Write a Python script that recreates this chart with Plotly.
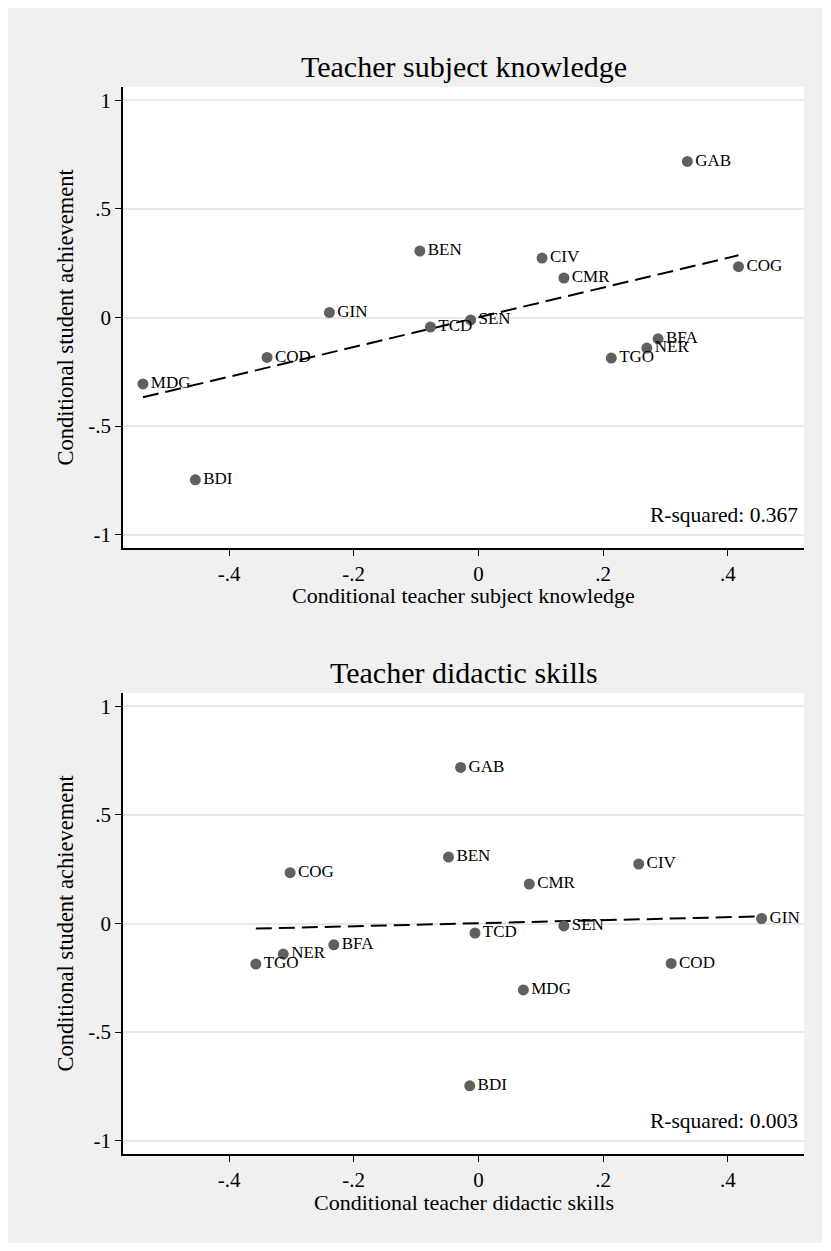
import numpy as np
import plotly.graph_objects as go
from plotly.subplots import make_subplots

countries = ["GAB", "BEN", "CIV", "CMR", "COG", "GIN", "SEN", "TCD",
             "COD", "MDG", "BFA", "NER", "TGO", "BDI"]
achievement = [0.719, 0.306, 0.274, 0.182, 0.234, 0.023, -0.011, -0.044,
               -0.184, -0.306, -0.098, -0.141, -0.187, -0.748]
subject_knowledge = [0.335, -0.094, 0.102, 0.137, 0.417, -0.239, -0.0125, -0.077,
                     -0.339, -0.538, 0.288, 0.270, 0.213, -0.454]
didactic_skills = [-0.0286, -0.048, 0.257, 0.0815, -0.302, 0.454, 0.137, -0.0056,
                   0.309, 0.072, -0.232, -0.313, -0.357, -0.014]
r2_labels = ["R-squared: 0.367", "R-squared: 0.003"]
titles = ["Teacher subject knowledge", "Teacher didactic skills"]
x_titles = ["Conditional teacher subject knowledge", "Conditional teacher didactic skills"]
y_title = "Conditional student achievement"
x_tickvals = [-0.4, -0.2, 0, 0.2, 0.4]
x_ticktext = ["-.4", "-.2", "0", ".2", ".4"]
y_tickvals = [-1, -0.5, 0, 0.5, 1]
y_ticktext = ["-1", "-.5", "0", ".5", "1"]

FONT = "Liberation Serif, Times New Roman, serif"
W, H = 814, 1235
ML, MR, MT, MB = 115, 18, 79, 89
plot_h = H - MT - MB
gap = 145

fig = make_subplots(rows=2, cols=1, vertical_spacing=gap / plot_h)

for i, xs in enumerate([subject_knowledge, didactic_skills]):
    row = i + 1
    xa = np.array(xs)
    ya = np.array(achievement)
    b, a = np.polyfit(xa, ya, 1)
    xl = np.array([xa.min(), xa.max()])
    fig.add_trace(go.Scatter(x=xl, y=a + b * xl, mode="lines",
                             line=dict(color="black", width=2, dash="16px,7px"),
                             hoverinfo="skip", showlegend=False), row=row, col=1)
    fig.add_trace(go.Scatter(x=xs, y=achievement, mode="markers+text", text=countries,
                             textposition="middle right",
                             textfont=dict(family=FONT, size=17, color="black"),
                             marker=dict(color="#606060", size=11),
                             showlegend=False), row=row, col=1)
    fig.update_xaxes(range=[-0.57, 0.522], tickvals=x_tickvals, ticktext=x_ticktext,
                     showgrid=False, zeroline=False, showline=True, linecolor="black",
                     linewidth=1.5, ticks="outside", ticklen=6, tickcolor="black",
                     tickfont=dict(family=FONT, size=21, color="black"),
                     row=row, col=1)
    fig.update_yaxes(range=[-1.062, 1.062], tickvals=y_tickvals, ticktext=y_ticktext,
                     showgrid=True, gridcolor="#e8e8e8", gridwidth=1.5, zeroline=False,
                     showline=True, linecolor="black", linewidth=1.5, ticks="outside",
                     ticklen=6, tickcolor="black",
                     tickfont=dict(family=FONT, size=21, color="black"),
                     row=row, col=1)

yref = ["y domain", "y2 domain"]
xref = ["x domain", "x2 domain"]
for i in range(2):
    fig.add_annotation(text=titles[i], xref=xref[i], yref=yref[i], x=0.5, y=1.0,
                       yshift=21, showarrow=False, yanchor="middle",
                       font=dict(family=FONT, size=30, color="black"))
    fig.add_annotation(text=x_titles[i], xref=xref[i], yref=yref[i], x=0.5, y=0.0,
                       yshift=-48, showarrow=False, yanchor="middle",
                       font=dict(family=FONT, size=22, color="black"))
    fig.add_annotation(text=y_title, xref=xref[i], yref=yref[i], x=0.0, y=0.5,
                       xshift=-58, showarrow=False, textangle=-90,
                       xanchor="center", yanchor="middle",
                       font=dict(family=FONT, size=22.5, color="black"))
    fig.add_annotation(text=r2_labels[i], xref=xref[i], yref=yref[i], x=0.994, y=0.0716,
                       showarrow=False, xanchor="right", yanchor="middle",
                       font=dict(family=FONT, size=21.5, color="black"))

fig.update_layout(width=W, height=H, margin=dict(l=ML, r=MR, t=MT, b=MB),
                  paper_bgcolor="#f0f0f0", plot_bgcolor="white",
                  font=dict(family=FONT, color="black"))

fig.write_html("out.html")
